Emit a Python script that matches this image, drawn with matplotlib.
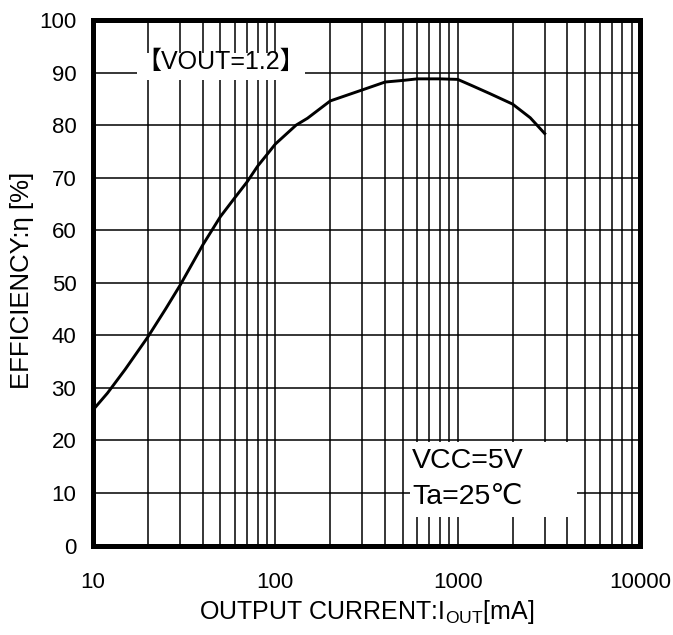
import numpy as np
import matplotlib
matplotlib.use("Agg")
import matplotlib.pyplot as plt
from matplotlib.ticker import FixedLocator, NullFormatter
from matplotlib.patches import Rectangle

plt.rcParams['font.family'] = ['Liberation Sans', 'DejaVu Sans', 'Noto Sans CJK JP']
plt.rcParams['mathtext.fontset'] = 'custom'
plt.rcParams['mathtext.rm'] = 'Liberation Sans'

# efficiency curve (VOUT=1.2V, VCC=5V, Ta=25C)
current_ma = [10, 12, 15, 20, 25, 30, 40, 50, 60, 70, 80, 90, 100, 130, 150,
              200, 300, 400, 500, 600, 700, 800, 1000, 1200, 1500, 2000,
              2500, 3000]
efficiency = [25.8, 29.0, 33.5, 39.7, 45.0, 49.5, 57.2, 62.6, 66.2, 69.2,
              72.2, 74.4, 76.4, 80.0, 81.3, 84.6, 86.7, 88.2, 88.5, 88.8,
              88.8, 88.8, 88.7, 87.5, 86.0, 84.0, 81.4, 78.4]

x_ticks = [10, 100, 1000, 10000]
y_ticks = list(range(0, 101, 10))

fig = plt.figure(figsize=(6.73, 6.35), dpi=100)
ax = fig.add_axes([0.1382, 0.1409, 0.8128, 0.8276])

ax.set_xscale('log')
ax.set_xlim(10, 10000)
ax.set_ylim(0, 100)

minor = [m * d for d in (10, 100, 1000) for m in range(2, 10)]
ax.xaxis.set_major_locator(FixedLocator(x_ticks))
ax.xaxis.set_minor_locator(FixedLocator(minor))
ax.xaxis.set_minor_formatter(NullFormatter())
ax.set_xticks(x_ticks)
ax.set_xticklabels([str(t) for t in x_ticks])
ax.set_yticks(y_ticks)

ax.grid(True, which='both', axis='x', color='black', lw=1.1)
ax.grid(True, which='major', axis='y', color='black', lw=1.1)
ax.set_axisbelow(True)

for s in ax.spines.values():
    s.set_linewidth(3.6)
    s.set_zorder(5)

ax.tick_params(which='both', length=0)
ax.tick_params(axis='x', pad=19, labelsize=16)
ax.tick_params(axis='y', pad=12, labelsize=16)

ax.plot(current_ma, efficiency, color='black', lw=2.1, zorder=4)

# white label boxes that hide the grid
trans = ax.transAxes
ax.add_patch(Rectangle((0.0804, 0.8858), 0.3072, 0.0512, transform=trans,
                       facecolor='white', edgecolor='none', zorder=2))
ax.text(0.234, 0.921, '【VOUT=1.2】', transform=trans, ha='center', va='center',
        fontsize=18, zorder=3)

ax.add_patch(Rectangle((0.5795, 0.0548), 0.3048, 0.1425, transform=trans,
                       facecolor='white', edgecolor='none', zorder=2))
ax.text(0.5832, 0.1608, 'VCC=5V', transform=trans, ha='left', va='center',
        fontsize=20.5, zorder=3)
ax.text(0.5832, 0.0923, 'Ta=25℃', transform=trans, ha='left', va='center',
        fontsize=20.5, zorder=3)

ax.set_xlabel('OUTPUT CURRENT:I$_{\\rm OUT}$[mA]', fontsize=18, va='center')
ax.xaxis.set_label_coords(0.5, -0.1265)
ax.set_ylabel('EFFICIENCY:η [%]', fontsize=18.5, va='center')
ax.yaxis.set_label_coords(-0.13, 0.505)

fig.savefig('out.png', dpi=100)
